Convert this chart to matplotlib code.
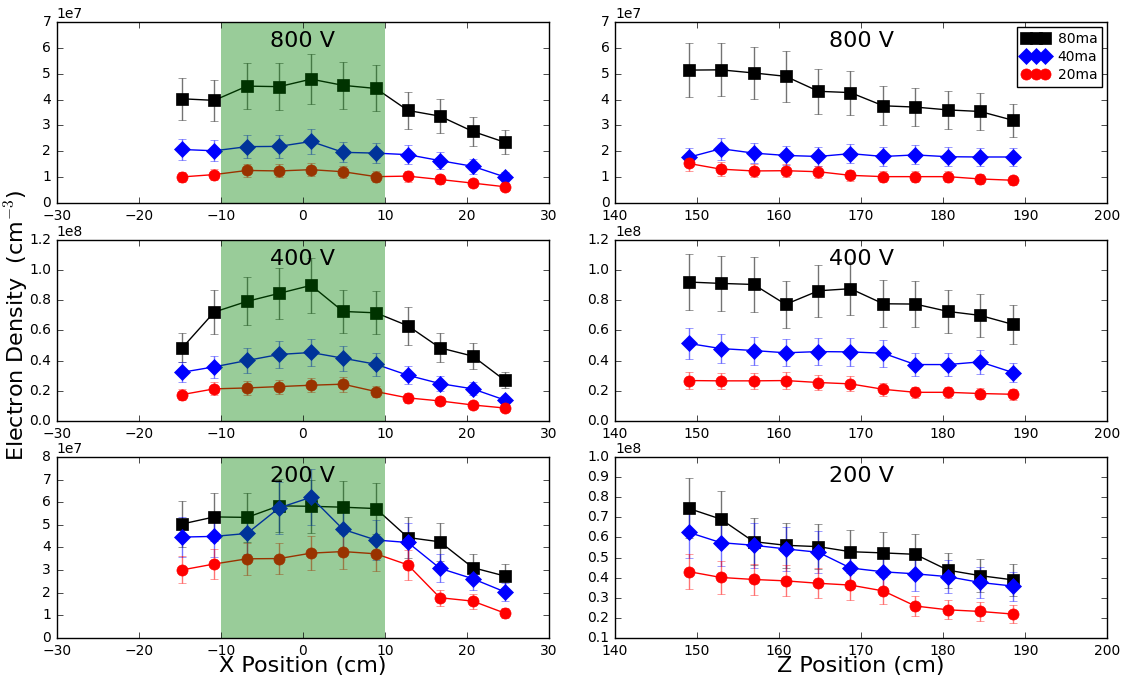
import matplotlib
matplotlib.use("Agg")
import matplotlib.pyplot as plt
from matplotlib.ticker import MultipleLocator

plt.style.use("classic")
plt.rcParams["figure.facecolor"] = "white"
plt.rcParams["savefig.facecolor"] = "white"
plt.rcParams["font.family"] = ["DejaVu Sans"]
plt.rcParams["font.size"] = 10

# ---------------- data ----------------
x_pos = [-14.7, -10.8, -6.8, -2.9, 1.0, 4.9, 8.9, 12.8, 16.7, 20.7, 24.6]
z_pos = [149.0, 152.9, 156.9, 160.8, 164.8, 168.7, 172.7, 176.6, 180.6, 184.5, 188.5]
series_labels = ["80ma", "40ma", "20ma"]

# 800 V, X scan (units 1e7)
x800_80 = [4.03, 3.97, 4.52, 4.50, 4.79, 4.55, 4.43, 3.58, 3.36, 2.77, 2.35]
x800_40 = [2.07, 2.02, 2.18, 2.19, 2.38, 1.96, 1.93, 1.87, 1.64, 1.42, 1.01]
x800_20 = [1.01, 1.10, 1.26, 1.24, 1.29, 1.21, 1.02, 1.04, 0.91, 0.77, 0.63]
x800_80_err = [0.81, 0.79, 0.90, 0.90, 0.96, 0.91, 0.89, 0.72, 0.67, 0.55, 0.47]
x800_40_err = [0.41, 0.40, 0.44, 0.44, 0.48, 0.39, 0.39, 0.37, 0.33, 0.28, 0.20]
x800_20_err = [0.20, 0.22, 0.25, 0.25, 0.26, 0.24, 0.20, 0.21, 0.18, 0.15, 0.13]

# 800 V, Z scan (units 1e7)
z800_80 = [5.14, 5.15, 5.03, 4.90, 4.32, 4.27, 3.76, 3.71, 3.60, 3.54, 3.20]
z800_40 = [1.77, 2.10, 1.93, 1.84, 1.80, 1.91, 1.80, 1.86, 1.79, 1.78, 1.78]
z800_20 = [1.53, 1.31, 1.24, 1.25, 1.21, 1.07, 1.02, 1.02, 1.02, 0.93, 0.88]
z800_80_err = [1.03, 1.03, 1.01, 0.98, 0.86, 0.85, 0.75, 0.74, 0.72, 0.71, 0.64]
z800_40_err = [0.35, 0.42, 0.39, 0.37, 0.36, 0.38, 0.36, 0.37, 0.36, 0.36, 0.36]
z800_20_err = [0.31, 0.26, 0.25, 0.25, 0.24, 0.21, 0.20, 0.20, 0.20, 0.19, 0.18]

# 400 V, X scan (units 1e8)
x400_80 = [0.485, 0.722, 0.793, 0.846, 0.899, 0.726, 0.717, 0.631, 0.485, 0.430, 0.270]
x400_40 = [0.323, 0.359, 0.401, 0.441, 0.454, 0.416, 0.376, 0.303, 0.248, 0.213, 0.139]
x400_20 = [0.175, 0.213, 0.219, 0.228, 0.237, 0.244, 0.195, 0.153, 0.133, 0.106, 0.086]
x400_80_err = [0.097, 0.144, 0.159, 0.169, 0.180, 0.145, 0.143, 0.126, 0.097, 0.086, 0.054]
x400_40_err = [0.065, 0.072, 0.080, 0.088, 0.091, 0.083, 0.075, 0.061, 0.050, 0.043, 0.028]
x400_20_err = [0.035, 0.043, 0.044, 0.046, 0.047, 0.049, 0.039, 0.031, 0.027, 0.021, 0.017]

# 400 V, Z scan (units 1e8)
z400_80 = [0.921, 0.912, 0.905, 0.773, 0.863, 0.877, 0.777, 0.775, 0.726, 0.700, 0.640]
z400_40 = [0.514, 0.480, 0.467, 0.452, 0.460, 0.458, 0.449, 0.374, 0.374, 0.392, 0.321]
z400_20 = [0.268, 0.266, 0.266, 0.268, 0.255, 0.246, 0.210, 0.190, 0.190, 0.182, 0.177]
z400_80_err = [0.184, 0.182, 0.181, 0.155, 0.173, 0.175, 0.155, 0.155, 0.145, 0.140, 0.128]
z400_40_err = [0.103, 0.096, 0.093, 0.090, 0.092, 0.092, 0.090, 0.075, 0.075, 0.078, 0.064]
z400_20_err = [0.054, 0.053, 0.053, 0.054, 0.051, 0.049, 0.042, 0.038, 0.038, 0.036, 0.035]

# 200 V, X scan (units 1e7)
x200_80 = [5.04, 5.35, 5.33, 5.84, 5.82, 5.78, 5.72, 4.44, 4.25, 3.11, 2.74]
x200_40 = [4.46, 4.49, 4.62, 5.75, 6.22, 4.80, 4.33, 4.22, 3.08, 2.62, 2.04]
x200_20 = [3.01, 3.27, 3.50, 3.51, 3.75, 3.82, 3.72, 3.23, 1.78, 1.63, 1.10]
x200_80_err = [1.01, 1.07, 1.07, 1.17, 1.16, 1.16, 1.14, 0.89, 0.85, 0.62, 0.55]
x200_40_err = [0.89, 0.90, 0.92, 1.15, 1.24, 0.96, 0.87, 0.84, 0.62, 0.52, 0.41]
x200_20_err = [0.60, 0.65, 0.70, 0.70, 0.75, 0.76, 0.74, 0.65, 0.36, 0.33, 0.22]

# 200 V, Z scan (units 1e8)
z200_80 = [0.744, 0.691, 0.579, 0.561, 0.554, 0.529, 0.523, 0.516, 0.437, 0.410, 0.389]
z200_40 = [0.625, 0.574, 0.561, 0.543, 0.526, 0.448, 0.429, 0.419, 0.405, 0.376, 0.358]
z200_20 = [0.430, 0.401, 0.391, 0.384, 0.372, 0.363, 0.334, 0.259, 0.240, 0.232, 0.219]
z200_80_err = [0.149, 0.138, 0.116, 0.112, 0.111, 0.106, 0.105, 0.103, 0.087, 0.082, 0.078]
z200_40_err = [0.125, 0.115, 0.112, 0.109, 0.105, 0.090, 0.086, 0.084, 0.081, 0.075, 0.072]
z200_20_err = [0.086, 0.080, 0.078, 0.077, 0.074, 0.073, 0.067, 0.052, 0.048, 0.046, 0.044]

# ---------------- panels ----------------
panels = [
    (0, 0, "800 V", 1e7, (0, 7), 1, x_pos, [(x800_80, x800_80_err), (x800_40, x800_40_err), (x800_20, x800_20_err)]),
    (0, 1, "800 V", 1e7, (0, 7), 1, z_pos, [(z800_80, z800_80_err), (z800_40, z800_40_err), (z800_20, z800_20_err)]),
    (1, 0, "400 V", 1e8, (0, 1.2), 0.2, x_pos, [(x400_80, x400_80_err), (x400_40, x400_40_err), (x400_20, x400_20_err)]),
    (1, 1, "400 V", 1e8, (0, 1.2), 0.2, z_pos, [(z400_80, z400_80_err), (z400_40, z400_40_err), (z400_20, z400_20_err)]),
    (2, 0, "200 V", 1e7, (0, 8), 1, x_pos, [(x200_80, x200_80_err), (x200_40, x200_40_err), (x200_20, x200_20_err)]),
    (2, 1, "200 V", 1e8, (0.1, 1.0), 0.1, z_pos, [(z200_80, z200_80_err), (z200_40, z200_40_err), (z200_20, z200_20_err)]),
]

colors = ["black", "blue", "red"]
markers = ["s", "D", "o"]

fig = plt.figure(figsize=(11.23, 6.79), dpi=100)

col_left = [0.0505, 0.5476]
col_width = 0.4384
row_bottom = [0.7010, 0.3800, 0.0604]
row_height = 0.2666

for row, col, title, scale, ylim, ystep, xs, data in panels:
    ax = fig.add_axes([col_left[col], row_bottom[row], col_width, row_height])
    handles = []
    for (vals, errs), c, m, lab in zip(data, colors, markers, series_labels):
        yv = [v * scale for v in vals]
        ye = [e * scale for e in errs]
        eb = ax.errorbar(xs, yv, yerr=ye, color=c, marker=m, markersize=8,
                         markeredgecolor=c, linewidth=1, ecolor=c, elinewidth=1,
                         capsize=3, zorder=2)
        for part in eb[1]:
            part.set_alpha(0.55)
        for part in eb[2]:
            part.set_alpha(0.55)
        handles.append(eb[0])
    if col == 0:
        ax.set_xlim(-30, 30)
        ax.axvspan(-10, 10, color="green", alpha=0.4, linewidth=0, zorder=2.5)
    else:
        ax.set_xlim(140, 200)
    ax.xaxis.set_major_locator(MultipleLocator(10))
    ax.set_ylim(ylim[0] * scale, ylim[1] * scale)
    ax.yaxis.set_major_locator(MultipleLocator(ystep * scale))
    ax.text(0.5, 0.895, title, transform=ax.transAxes, ha="center", va="center",
            fontsize=16, zorder=5)
    if row == 0 and col == 1:
        leg = ax.legend(handles, series_labels, loc="upper right", numpoints=3,
                        fontsize=10, handlelength=2.0, borderaxespad=0.35,
                        fancybox=False, handletextpad=0.6, labelspacing=0.3,
                        borderpad=0.35)
        leg.get_frame().set_edgecolor("black")
    if row == 2:
        ax.set_xlabel("X Position (cm)" if col == 0 else "Z Position (cm)",
                      fontsize=16, labelpad=-1)

fig.text(0.015, 0.52, "Electron Density  (cm$^{-3}$)", rotation=90,
         ha="center", va="center", fontsize=16)

fig.savefig("out.png", dpi=100)
